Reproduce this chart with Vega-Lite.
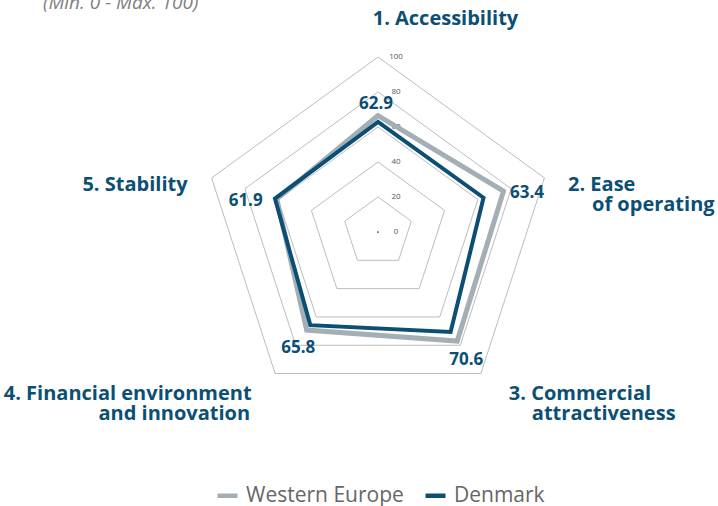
{
  "$schema": "https://vega.github.io/schema/vega-lite/v6.json",
  "width": 718,
  "height": 506,
  "autosize": "none",
  "padding": 0,
  "background": "white",
  "config": {"view": {"stroke": null}, "font": "Open Sans"},
  "title": {"text": "(Min. 0 - Max. 100)", "anchor": "start", "frame": "group", "offset": -13, "dx": 43, "fontSize": 19, "fontStyle": "italic", "fontWeight": "normal", "color": "#808080", "font": "Open Sans"},
  "datasets": {
    "grid": [
      {"level": 20, "axis": 1}, {"level": 20, "axis": 2}, {"level": 20, "axis": 3}, {"level": 20, "axis": 4}, {"level": 20, "axis": 5},
      {"level": 40, "axis": 1}, {"level": 40, "axis": 2}, {"level": 40, "axis": 3}, {"level": 40, "axis": 4}, {"level": 40, "axis": 5},
      {"level": 60, "axis": 1}, {"level": 60, "axis": 2}, {"level": 60, "axis": 3}, {"level": 60, "axis": 4}, {"level": 60, "axis": 5},
      {"level": 80, "axis": 1}, {"level": 80, "axis": 2}, {"level": 80, "axis": 3}, {"level": 80, "axis": 4}, {"level": 80, "axis": 5},
      {"level": 100, "axis": 1}, {"level": 100, "axis": 2}, {"level": 100, "axis": 3}, {"level": 100, "axis": 4}, {"level": 100, "axis": 5}
    ],
    "ticks": [{"level": 0}, {"level": 20}, {"level": 40}, {"level": 60}, {"level": 80}, {"level": 100}],
    "series": [
      {"series": "Western Europe", "axis": 1, "value": 66.5},
      {"series": "Western Europe", "axis": 2, "value": 75.4},
      {"series": "Western Europe", "axis": 3, "value": 77.0},
      {"series": "Western Europe", "axis": 4, "value": 69.3},
      {"series": "Western Europe", "axis": 5, "value": 60.8},
      {"series": "Denmark", "axis": 1, "value": 62.9},
      {"series": "Denmark", "axis": 2, "value": 63.4},
      {"series": "Denmark", "axis": 3, "value": 70.6},
      {"series": "Denmark", "axis": 4, "value": 65.8},
      {"series": "Denmark", "axis": 5, "value": 61.9}
    ],
    "cats": [
      {"axis": 1, "line": 1, "text": "1. Accessibility"},
      {"axis": 2, "line": 1, "text": "2. Ease"},
      {"axis": 2, "line": 2, "text": "of operating"},
      {"axis": 3, "line": 1, "text": "3. Commercial"},
      {"axis": 3, "line": 2, "text": "attractiveness"},
      {"axis": 4, "line": 1, "text": "4. Financial environment"},
      {"axis": 4, "line": 2, "text": "and innovation"},
      {"axis": 5, "line": 1, "text": "5. Stability"}
    ]
  },
  "encoding": {
    "x": {"field": "px", "type": "quantitative", "scale": {"domain": [-216, 194.2857], "nice": false, "zero": false}, "axis": null},
    "y": {"field": "py", "type": "quantitative", "scale": {"domain": [-156.5714, 132.5714], "nice": false, "zero": false}, "axis": null}
  },
  "layer": [
    {
      "data": {"name": "grid"},
      "transform": [
        {"calculate": "(datum.axis - 1) * 2 * PI / 5", "as": "ang"},
        {"calculate": "datum.level * sin(datum.ang)", "as": "px"},
        {"calculate": "datum.level * cos(datum.ang)", "as": "py"}
      ],
      "mark": {"type": "line", "interpolate": "linear-closed", "color": "#ababab", "strokeWidth": 0.8},
      "encoding": {"detail": {"field": "level"}, "order": {"field": "axis"}}
    },
    {
      "data": {"name": "ticks"},
      "transform": [
        {"calculate": "0", "as": "px"},
        {"calculate": "datum.level", "as": "py"}
      ],
      "mark": {"type": "text", "dx": 18, "align": "center", "baseline": "middle", "fontSize": 8, "color": "#555555"},
      "encoding": {"text": {"field": "level"}}
    },
    {
      "data": {"name": "ticks"},
      "transform": [
        {"filter": "datum.level == 0"},
        {"calculate": "0", "as": "px"},
        {"calculate": "0", "as": "py"}
      ],
      "mark": {"type": "point", "filled": true, "size": 3, "color": "#333333", "opacity": 1},
      "encoding": {}
    },
    {
      "data": {"name": "series"},
      "transform": [
        {"filter": "datum.series == 'Western Europe'"},
        {"calculate": "(datum.axis - 1) * 2 * PI / 5", "as": "ang"},
        {"calculate": "datum.value * sin(datum.ang)", "as": "px"},
        {"calculate": "datum.value * cos(datum.ang)", "as": "py"}
      ],
      "mark": {"type": "line", "interpolate": "linear-closed", "strokeWidth": 5, "strokeJoin": "miter"},
      "encoding": {
        "order": {"field": "axis"},
        "color": {"field": "series", "type": "nominal",
          "scale": {"domain": ["Western Europe", "Denmark"], "range": ["#A3AFB5", "#0C4F74"]},
          "legend": {"orient": "none", "legendX": 215, "legendY": 483, "direction": "horizontal", "title": null, "symbolType": "stroke", "symbolStrokeWidth": 4.5, "symbolSize": 400, "labelFontSize": 21, "labelFont": "Open Sans", "labelColor": "#666666", "columnPadding": 12, "labelOffset": 6, "padding": 0}}
      }
    },
    {
      "data": {"name": "series"},
      "transform": [
        {"filter": "datum.series == 'Denmark'"},
        {"calculate": "(datum.axis - 1) * 2 * PI / 5", "as": "ang"},
        {"calculate": "datum.value * sin(datum.ang)", "as": "px"},
        {"calculate": "datum.value * cos(datum.ang)", "as": "py"}
      ],
      "mark": {"type": "line", "interpolate": "linear-closed", "strokeWidth": 4, "strokeJoin": "miter"},
      "encoding": {
        "order": {"field": "axis"},
        "color": {"field": "series", "type": "nominal"}
      }
    },
    {
      "data": {"name": "series"},
      "transform": [
        {"filter": "datum.series == 'Denmark'"},
        {"calculate": "(datum.axis - 1) * 2 * PI / 5", "as": "ang"},
        {"calculate": "datum.value * sin(datum.ang)", "as": "px"},
        {"calculate": "datum.value * cos(datum.ang)", "as": "py"}
      ],
      "layer": [
        {"transform": [{"filter": "datum.axis == 1"}], "mark": {"type": "text", "align": "center", "baseline": "alphabetic", "dx": -2, "dy": -13, "fontSize": 17, "fontWeight": "bold", "color": "#0C4F74"}, "encoding": {"text": {"field": "value", "format": ".1f"}}},
        {"transform": [{"filter": "datum.axis == 2"}], "mark": {"type": "text", "align": "left", "baseline": "alphabetic", "dx": 26.5, "dy": 0.3, "fontSize": 17, "fontWeight": "bold", "color": "#0C4F74"}, "encoding": {"text": {"field": "value", "format": ".1f"}}},
        {"transform": [{"filter": "datum.axis == 3"}], "mark": {"type": "text", "align": "left", "baseline": "alphabetic", "dx": -1.3, "dy": 33, "fontSize": 17, "fontWeight": "bold", "color": "#0C4F74"}, "encoding": {"text": {"field": "value", "format": ".1f"}}},
        {"transform": [{"filter": "datum.axis == 4"}], "mark": {"type": "text", "align": "right", "baseline": "alphabetic", "dx": 5, "dy": 27.7, "fontSize": 17, "fontWeight": "bold", "color": "#0C4F74"}, "encoding": {"text": {"field": "value", "format": ".1f"}}},
        {"transform": [{"filter": "datum.axis == 5"}], "mark": {"type": "text", "align": "right", "baseline": "alphabetic", "dx": -12.3, "dy": 7.5, "fontSize": 17, "fontWeight": "bold", "color": "#0C4F74"}, "encoding": {"text": {"field": "value", "format": ".1f"}}}
      ]
    },
    {
      "data": {"name": "cats"},
      "transform": [
        {"calculate": "(datum.axis - 1) * 2 * PI / 5", "as": "ang"},
        {"calculate": "100 * sin(datum.ang)", "as": "px"},
        {"calculate": "100 * cos(datum.ang)", "as": "py"}
      ],
      "layer": [
        {"transform": [{"filter": "datum.axis == 1"}], "mark": {"type": "text", "align": "left", "baseline": "alphabetic", "dx": -5.3, "dy": -32, "fontSize": 20, "fontWeight": "bold", "color": "#0C4F74"}, "encoding": {"text": {"field": "text"}}},
        {"transform": [{"filter": "datum.axis == 2 && datum.line == 1"}], "mark": {"type": "text", "align": "left", "baseline": "alphabetic", "dx": 23.6, "dy": 13, "fontSize": 20, "fontWeight": "bold", "color": "#0C4F74"}, "encoding": {"text": {"field": "text"}}},
        {"transform": [{"filter": "datum.axis == 2 && datum.line == 2"}], "mark": {"type": "text", "align": "left", "baseline": "alphabetic", "dx": 47.6, "dy": 33, "fontSize": 20, "fontWeight": "bold", "color": "#0C4F74"}, "encoding": {"text": {"field": "text"}}},
        {"transform": [{"filter": "datum.axis == 3 && datum.line == 1"}], "mark": {"type": "text", "align": "left", "baseline": "alphabetic", "dx": 28, "dy": 26.4, "fontSize": 20, "fontWeight": "bold", "color": "#0C4F74"}, "encoding": {"text": {"field": "text"}}},
        {"transform": [{"filter": "datum.axis == 3 && datum.line == 2"}], "mark": {"type": "text", "align": "left", "baseline": "alphabetic", "dx": 51, "dy": 46.4, "fontSize": 20, "fontWeight": "bold", "color": "#0C4F74"}, "encoding": {"text": {"field": "text"}}},
        {"transform": [{"filter": "datum.axis == 4 && datum.line == 1"}], "mark": {"type": "text", "align": "right", "baseline": "alphabetic", "dx": -23.5, "dy": 26.4, "fontSize": 20, "fontWeight": "bold", "color": "#0C4F74"}, "encoding": {"text": {"field": "text"}}},
        {"transform": [{"filter": "datum.axis == 4 && datum.line == 2"}], "mark": {"type": "text", "align": "right", "baseline": "alphabetic", "dx": -25, "dy": 46.4, "fontSize": 20, "fontWeight": "bold", "color": "#0C4F74"}, "encoding": {"text": {"field": "text"}}},
        {"transform": [{"filter": "datum.axis == 5"}], "mark": {"type": "text", "align": "right", "baseline": "alphabetic", "dx": -24, "dy": 13, "fontSize": 20, "fontWeight": "bold", "color": "#0C4F74"}, "encoding": {"text": {"field": "text"}}}
      ]
    }
  ]
}
